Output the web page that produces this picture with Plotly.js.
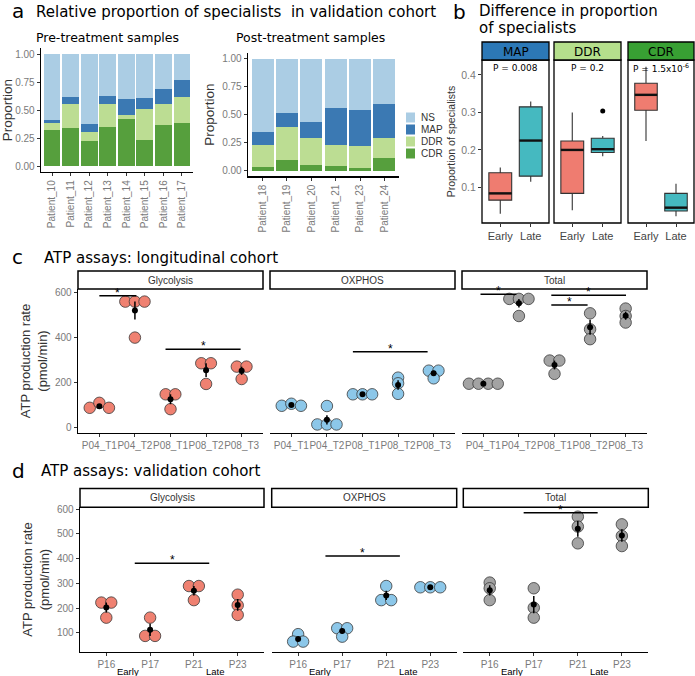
<!DOCTYPE html>
<html>
<head>
<meta charset="utf-8">
<script src="https://cdn.plot.ly/plotly-3.0.1.min.js"></script>
<style>
body { margin: 0; background: white; }
#chart { width: 695px; height: 676px; }
</style>
</head>
<body>
<div id="chart"></div>
<script>
// ---- panel a: proportion of specialists per patient (stacked)
var preCategories = ['Patient_10', 'Patient_11', 'Patient_12', 'Patient_13', 'Patient_14', 'Patient_15', 'Patient_16', 'Patient_17']
var preCDR = [0.326, 0.344, 0.226, 0.350, 0.424, 0.231, 0.371, 0.389]
var preDDR = [0.060, 0.211, 0.083, 0.208, 0.033, 0.279, 0.181, 0.228]
var preMAP = [0.026, 0.062, 0.068, 0.065, 0.142, 0.101, 0.136, 0.152]
var preNS = [0.588, 0.383, 0.623, 0.377, 0.401, 0.389, 0.312, 0.231]

var postCategories = ['Patient_18', 'Patient_19', 'Patient_20', 'Patient_21', 'Patient_23', 'Patient_24']
var postCDR = [0.036, 0.092, 0.054, 0.042, 0.027, 0.111]
var postDDR = [0.196, 0.301, 0.238, 0.187, 0.196, 0.178]
var postMAP = [0.116, 0.122, 0.143, 0.328, 0.322, 0.303]
var postNS = [0.652, 0.485, 0.565, 0.443, 0.455, 0.408]

var legendOrder = ['NS', 'MAP', 'DDR', 'CDR']

// ---- panel b: box stats [lower whisker, q1, median, q3, upper whisker]
var boxFacets = ['MAP', 'DDR', 'CDR']
var boxGroups = ['Early', 'Late']
var mapEarly = [0.030, 0.066, 0.084, 0.139, 0.153]
var mapLate = [0.115, 0.130, 0.225, 0.315, 0.329]
var ddrEarly = [0.039, 0.084, 0.200, 0.224, 0.300]
var ddrLate = [0.183, 0.193, 0.202, 0.231, 0.237]
var ddrLateOutliers = [0.304]
var cdrEarly = [0.224, 0.306, 0.347, 0.378, 0.422]
var cdrLate = [0.023, 0.037, 0.046, 0.084, 0.110]
var pLabels = ['P = 0.008', 'P = 0.2', 'P = 1.5x10<sup>-6</sup>']
var pHeight = 0.419

// ---- panel c: ATP assays, longitudinal cohort (replicates per sample)
var assayFacets = ['Glycolysis', 'OXPHOS', 'Total']
var longCategories = ['P04_T1', 'P04_T2', 'P08_T1', 'P08_T2', 'P08_T3']
var longGlycolysis = [[88, 110, 88], [560, 560, 560, 400], [148, 148, 82], [286, 286, 194], [271, 271, 216]]
var longOxphos = [[97, 106, 97], [96, 14, 14, 14], [148, 148, 148], [222, 197, 150], [253, 253, 219]]
var longTotal = [[195, 195, 195, 195], [572, 572, 572, 496], [298, 298, 239], [508, 437, 393], [529, 496, 467]]
// facet, from, to, height
var longBrackets = [[0, 1, 2.04, 586], [0, 2.86, 4.97, 348], [1, 2.73, 4.83, 337], [2, 0.92, 1.93, 593], [2, 2.91, 5.01, 588], [2, 2.91, 3.93, 545]]

// ---- panel d: ATP assays, validation cohort
var valCategories = ['P16', 'P17', 'P21', 'P23']
var valStages = ['Early', 'Late']
var valGlycolysis = [[222, 222, 161], [161, 87, 87], [289, 289, 232], [254, 211, 172]]
var valOxphos = [[94, 64, 64], [118, 118, 84], [289, 232, 232], [284, 284, 284]]
var valTotal = [[303, 280, 232], [280, 201, 161], [570, 530, 462], [539, 492, 451]]
var valBrackets = [[0, 1.65, 3.35, 381], [1, 1.62, 3.31, 411], [2, 1.77, 3.45, 586]]

// styles
var specialistColors = {NS: '#abcde4', MAP: '#3b79b3', DDR: '#bcdd93', CDR: '#569f3d'}
var stripColors = ['#2c78b6', '#b5df8c', '#38a033']
var groupColors = ['#ef7c70', '#45b9c0']
var assayColors = ['#ef8171', '#8cc7e9', '#a3a3a3']
var tickGray = '#7a7a7a'
var headFont = 'DejaVu Sans'
var plainFont = 'Liberation Sans'

var W = 695
var H = 676
function fx(p) { return p / W }
function fy(p) { return 1 - p / H }

var data = []
var shapes = []
var annotations = []

function note(text, x, y, size, extra) {
    var a = {text: text, x: x, y: y, xref: 'paper', yref: 'paper', showarrow: false,
        xanchor: 'left', yanchor: 'middle', font: {family: headFont, size: size, color: 'black'}}
    for (var k in extra) a[k] = extra[k]
    annotations.push(a)
}

function axis(extra) {
    var a = {showgrid: false, zeroline: false, showline: true, linecolor: 'black', linewidth: 1.4,
        ticks: 'outside', ticklen: 3, tickwidth: 1, tickcolor: '#333', tickangle: 0,
        tickfont: {family: plainFont, size: 10, color: tickGray}, fixedrange: true}
    for (var k in extra) a[k] = extra[k]
    return a
}

// panel a bars
var preValues = {CDR: preCDR, DDR: preDDR, MAP: preMAP, NS: preNS}
var postValues = {CDR: postCDR, DDR: postDDR, MAP: postMAP, NS: postNS}
;['CDR', 'DDR', 'MAP', 'NS'].forEach(function (name) {
    data.push({type: 'bar', x: preCategories, y: preValues[name], name: name, xaxis: 'x', yaxis: 'y',
        marker: {color: specialistColors[name], line: {width: 0}}, hoverinfo: 'skip'})
    data.push({type: 'bar', x: postCategories, y: postValues[name], name: name, xaxis: 'x2', yaxis: 'y2',
        marker: {color: specialistColors[name], line: {width: 0}}, hoverinfo: 'skip'})
})

// hand-made legend for panel a
legendOrder.forEach(function (name, i) {
    var cy = 117.5 + i * 12
    shapes.push({type: 'rect', xref: 'paper', yref: 'paper', x0: fx(406), x1: fx(415), y0: fy(cy + 5), y1: fy(cy - 5),
        fillcolor: specialistColors[name], line: {width: 0}})
    note(name, fx(419), fy(cy), 10, {font: {family: plainFont, size: 10, color: '#333'}})
})

// panel b boxes
var boxStats = [[mapEarly, mapLate], [ddrEarly, ddrLate], [cdrEarly, cdrLate]]
boxFacets.forEach(function (facet, i) {
    var xa = 'x' + (i + 3)
    boxStats[i].forEach(function (s, g) {
        data.push({type: 'box', x: [g + 1], lowerfence: [s[0]], q1: [s[1]], median: [s[2]], q3: [s[3]], upperfence: [s[4]],
            width: 0.75, whiskerwidth: 0, boxpoints: false, fillcolor: groupColors[g],
            line: {color: '#333', width: 1.1}, xaxis: xa, yaxis: 'y3', hoverinfo: 'skip'})
        // thick median like ggplot
        shapes.push({type: 'line', xref: xa, yref: 'y3', x0: g + 1 - 0.375, x1: g + 1 + 0.375, y0: s[2], y1: s[2],
            line: {color: '#111', width: 2.4}})
    })
    shapes.push({type: 'rect', xref: xa + ' domain', yref: 'y3 domain', x0: 0, x1: 1, y0: 0, y1: 1,
        line: {color: 'black', width: 1.3}})
    shapes.push({type: 'rect', xref: xa + ' domain', yref: 'paper', x0: 0, x1: 1, y0: fy(60), y1: fy(42),
        fillcolor: stripColors[i], line: {color: 'black', width: 1.3}})
    annotations.push({text: facet, xref: xa + ' domain', yref: 'paper', x: 0.5, y: fy(51.5), showarrow: false,
        xanchor: 'center', yanchor: 'middle', font: {family: headFont, size: 12, color: 'black'}})
    annotations.push({text: pLabels[i], xref: xa, yref: 'y3', x: 1.5, y: pHeight, showarrow: false,
        xanchor: 'center', yanchor: 'middle', font: {family: headFont, size: 9, color: 'black'}})
})
data.push({type: 'scatter', mode: 'markers', x: ddrLateOutliers.map(function () { return 2 }), y: ddrLateOutliers,
    xaxis: 'x4', yaxis: 'y3', marker: {color: 'black', size: 5}, hoverinfo: 'skip'})

// panels c and d: dot plots with mean +- SE
function swarm(values, binWidth) {
    var bins = []
    values.forEach(function (v, i) {
        var bin = bins.find(function (b) { return Math.abs(values[b[0]] - v) < binWidth })
        if (bin) bin.push(i)
        else bins.push([i])
    })
    var offsets = []
    bins.forEach(function (b) {
        b.forEach(function (idx, j) { offsets[idx] = j - (b.length - 1) / 2 })
    })
    return offsets
}

function mean(v) { return v.reduce(function (a, b) { return a + b }, 0) / v.length }
function stderr(v) {
    var m = mean(v)
    var ss = v.reduce(function (a, b) { return a + (b - m) * (b - m) }, 0)
    return Math.sqrt(ss / (v.length - 1)) / Math.sqrt(v.length)
}

function drawAssays(series, firstAxis, yAxis, binWidth, spacing) {
    series.forEach(function (groups, f) {
        var xa = 'x' + (firstAxis + f)
        var px = [], py = [], mx = [], my = [], se = []
        groups.forEach(function (values, k) {
            var offsets = swarm(values, binWidth)
            values.forEach(function (v, j) {
                px.push(k + 1 + offsets[j] * spacing)
                py.push(v)
            })
            mx.push(k + 1)
            my.push(mean(values))
            se.push(stderr(values))
        })
        data.push({type: 'scatter', mode: 'markers', x: px, y: py, xaxis: xa, yaxis: yAxis, hoverinfo: 'skip',
            marker: {size: 11.5, color: assayColors[f], line: {color: '#3a3a3a', width: 0.8}}})
        data.push({type: 'scatter', mode: 'markers', x: mx, y: my, xaxis: xa, yaxis: yAxis, hoverinfo: 'skip',
            marker: {size: 6, color: 'black'},
            error_y: {type: 'data', array: se, color: 'black', thickness: 1.5, width: 0}})
    })
}

function drawBrackets(brackets, firstAxis, yAxis) {
    brackets.forEach(function (b) {
        var xa = 'x' + (firstAxis + b[0])
        shapes.push({type: 'line', xref: xa, yref: yAxis, x0: b[1], x1: b[2], y0: b[3], y1: b[3],
            line: {color: 'black', width: 1.5}})
        annotations.push({text: '*', xref: xa, yref: yAxis, x: (b[1] + b[2]) / 2, y: b[3], yshift: 3,
            xanchor: 'center', yanchor: 'middle', showarrow: false, font: {family: plainFont, size: 12, color: 'black'}})
    })
}

function drawStrips(firstAxis, top, bottom) {
    assayFacets.forEach(function (name, f) {
        var xa = 'x' + (firstAxis + f)
        shapes.push({type: 'rect', xref: xa + ' domain', yref: 'paper', x0: 0, x1: 1, y0: fy(bottom), y1: fy(top),
            fillcolor: 'white', line: {color: 'black', width: 1.5}})
        annotations.push({text: name, xref: xa + ' domain', yref: 'paper', x: 0.5, y: fy((top + bottom) / 2),
            xanchor: 'center', yanchor: 'middle', showarrow: false, font: {family: plainFont, size: 10, color: '#333'}})
    })
}

drawAssays([longGlycolysis, longOxphos, longTotal], 6, 'y6', 24, 0.27)
drawBrackets(longBrackets, 6, 'y6')
drawStrips(6, 271, 289)

drawAssays([valGlycolysis, valOxphos, valTotal], 9, 'y9', 20, 0.225)
drawBrackets(valBrackets, 9, 'y9')
drawStrips(9, 488.5, 507.3)
for (var f = 0; f < 3; f++) {
    valStages.forEach(function (stage, s) {
        annotations.push({text: stage, xref: 'x' + (9 + f), yref: 'paper', x: 1.5 + 2 * s, y: fy(671.5),
            xanchor: 'center', yanchor: 'middle', showarrow: false, font: {family: plainFont, size: 9.5, color: 'black'}})
    })
}

// headings
note('a', fx(10), fy(11), 20)
note('Relative proportion of specialists  in validation cohort', fx(34), fy(12), 15)
note('Pre-treatment samples', fx(108), fy(38), 12.5, {xanchor: 'center'})
note('Post-treatment samples', fx(310), fy(38), 12.5, {xanchor: 'center'})
note('b', fx(451), fy(12), 20)
note('Difference in proportion', fx(477), fy(11), 15)
note('of specialists', fx(477), fy(28), 15)
note('c', fx(10), fy(257), 20)
note('ATP assays: longitudinal cohort', fx(42), fy(258), 15)
note('d', fx(10), fy(471), 20)
note('ATP assays: validation cohort', fx(39), fy(471), 15)

var atpTitle = {text: 'ATP production rate<br>(pmol/min)', font: {family: plainFont, size: 13, color: '#333'}, standoff: 4}

var layout = {
    width: W,
    height: H,
    margin: {l: 0, r: 0, t: 0, b: 0},
    paper_bgcolor: 'white',
    plot_bgcolor: 'rgba(0,0,0,0)',
    showlegend: false,
    barmode: 'stack',
    bargap: 0.1,
    font: {family: plainFont, color: '#333'},
    shapes: shapes,
    annotations: annotations,

    xaxis: axis({domain: [fx(41), fx(193)], anchor: 'y', type: 'category', range: [-0.6, 7.6], tickangle: -90}),
    yaxis: axis({domain: [fy(171.9), fy(48.4)], anchor: 'x', range: [-0.05, 1.05], tickvals: [0, 0.25, 0.5, 0.75, 1],
        tickformat: '.2f', title: {text: 'Proportion', font: {family: plainFont, size: 13.5, color: '#333'}, standoff: 4}}),
    xaxis2: axis({domain: [fx(248), fx(399)], anchor: 'y2', type: 'category', range: [-0.6, 5.6], tickangle: -90}),
    yaxis2: axis({domain: [fy(176.3), fy(53.1)], anchor: 'x2', range: [-0.05, 1.05], tickvals: [0, 0.25, 0.5, 0.75, 1],
        tickformat: '.2f', title: {text: 'Proportion', font: {family: plainFont, size: 13.5, color: '#333'}, standoff: 4}}),

    xaxis3: axis({domain: [fx(482), fx(549)], anchor: 'y3', range: [0.4, 2.6], showline: false, tickvals: [1, 2], ticktext: boxGroups,
        tickfont: {family: plainFont, size: 11, color: '#444'}}),
    xaxis4: axis({domain: [fx(554), fx(621)], anchor: 'y3', range: [0.4, 2.6], showline: false, tickvals: [1, 2], ticktext: boxGroups,
        tickfont: {family: plainFont, size: 11, color: '#444'}}),
    xaxis5: axis({domain: [fx(628), fx(694)], anchor: 'y3', range: [0.4, 2.6], showline: false, tickvals: [1, 2], ticktext: boxGroups,
        tickfont: {family: plainFont, size: 11, color: '#444'}}),
    yaxis3: axis({domain: [fy(223), fy(60)], anchor: 'x3', range: [0.005, 0.44], showline: false, tickvals: [0.1, 0.2, 0.3, 0.4],
        tickfont: {family: plainFont, size: 10.5, color: tickGray},
        title: {text: 'Proportion of specialists', font: {family: plainFont, size: 10.5, color: '#333'}, standoff: 3}}),

    xaxis6: axis({domain: [fx(78), fx(263)], anchor: 'y6', range: [0.4, 5.6], tickvals: [1, 2, 3, 4, 5], ticktext: longCategories}),
    xaxis7: axis({domain: [fx(270), fx(455)], anchor: 'y6', range: [0.4, 5.6], tickvals: [1, 2, 3, 4, 5], ticktext: longCategories}),
    xaxis8: axis({domain: [fx(462), fx(647)], anchor: 'y6', range: [0.4, 5.6], tickvals: [1, 2, 3, 4, 5], ticktext: longCategories}),
    yaxis6: axis({domain: [fy(433), fy(289)], anchor: 'x6', range: [-24, 616], tickvals: [0, 200, 400, 600], title: atpTitle}),

    xaxis9: axis({domain: [fx(80), fx(264)], anchor: 'y9', range: [0.4, 4.6], tickvals: [1, 2, 3, 4], ticktext: valCategories}),
    xaxis10: axis({domain: [fx(271.7), fx(456.7)], anchor: 'y9', range: [0.4, 4.6], tickvals: [1, 2, 3, 4], ticktext: valCategories}),
    xaxis11: axis({domain: [fx(463.3), fx(648.3)], anchor: 'y9', range: [0.4, 4.6], tickvals: [1, 2, 3, 4], ticktext: valCategories}),
    yaxis9: axis({domain: [fy(651.7), fy(507.3)], anchor: 'x9', range: [23, 608], tickvals: [100, 200, 300, 400, 500, 600], title: atpTitle})
}

Plotly.newPlot('chart', data, layout, {displayModeBar: false, staticPlot: true})
</script>
</body>
</html>
